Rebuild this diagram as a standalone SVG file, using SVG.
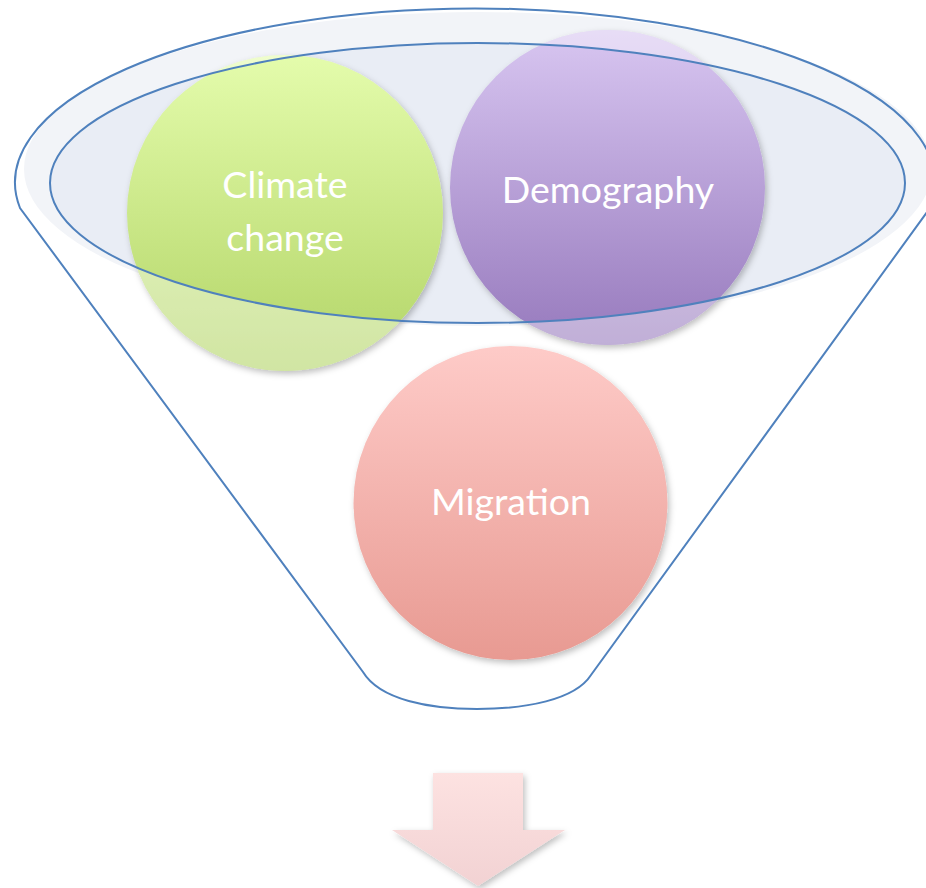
<svg xmlns="http://www.w3.org/2000/svg" width="926" height="888" viewBox="0 0 926 888">
  <defs>
    <linearGradient id="gGreen" x1="0" y1="0" x2="0" y2="1">
      <stop offset="0" stop-color="#E4FCAC"/>
      <stop offset="1" stop-color="#B2D466"/>
    </linearGradient>
    <linearGradient id="gPurple" x1="0" y1="0" x2="0" y2="1">
      <stop offset="0" stop-color="#D8C6F1"/>
      <stop offset="1" stop-color="#977ABD"/>
    </linearGradient>
    <linearGradient id="gRed" x1="0" y1="0" x2="0" y2="1">
      <stop offset="0" stop-color="#FECBC8"/>
      <stop offset="1" stop-color="#E89A92"/>
    </linearGradient>
    <linearGradient id="gArrow" x1="0" y1="0" x2="0" y2="1">
      <stop offset="0" stop-color="#FDE2E1"/>
      <stop offset="1" stop-color="#F2D2D3"/>
    </linearGradient>
    <filter id="shadow" x="-10%" y="-10%" width="125%" height="125%">
      <feDropShadow dx="2" dy="3" stdDeviation="3" flood-color="#000" flood-opacity="0.25"/>
    </filter>
    <!-- everything except the funnel mouth -->
    <clipPath id="outsideMouth">
      <path clip-rule="evenodd" d="M0,0 H926 V888 H0 Z M50,183 a427.5,140 0 1,0 855,0 a427.5,140 0 1,0 -855,0 Z"/>
    </clipPath>
  </defs>
  <style>
    .rim { fill: none; stroke: #4F81BD; stroke-width: 2; }
    .label { font-family: Lato, "Liberation Sans", sans-serif; font-size: 37.5px; fill: #FFFFFF; text-anchor: middle; }
  </style>

  <g id="funnel-back">
    <ellipse cx="478" cy="169" rx="454" ry="157" fill="#F2F4F8"/>
    <ellipse cx="477.5" cy="183" rx="427.5" ry="140" fill="#E9EDF5"/>
  </g>

  <g id="node-climate">
    <circle cx="285" cy="213" r="158" fill="url(#gGreen)" filter="url(#shadow)"/>
    <circle cx="285" cy="213" r="158" fill="#FFFFFF" fill-opacity="0.4" clip-path="url(#outsideMouth)"/>
    <text class="label" x="285" y="198">Climate</text>
    <text class="label" x="285" y="251">change</text>
  </g>

  <g id="node-demography">
    <circle cx="607.5" cy="187.5" r="157.5" fill="url(#gPurple)" filter="url(#shadow)"/>
    <circle cx="607.5" cy="187.5" r="157.5" fill="#FFFFFF" fill-opacity="0.4" clip-path="url(#outsideMouth)"/>
    <text class="label" x="608" y="203">Demography</text>
  </g>

  <g id="node-migration">
    <circle cx="510.5" cy="503" r="157" fill="url(#gRed)" filter="url(#shadow)"/>
    <text class="label" x="511" y="515">Migration</text>
  </g>

  <g id="funnel-outline">
    <ellipse class="rim" cx="477.5" cy="183" rx="427.5" ry="140"/>
    <path class="rim" d="M20,208 A460,174 0 1,1 930,208 L591,675 C575,700 525,709 477,709 C430,709 380,700 363,672 Z"/>
  </g>

  <g id="connectors">
    <path d="M433,773 H523 V830 H565 L478,886 L392,830 H433 Z" fill="url(#gArrow)" filter="url(#shadow)"/>
  </g>
</svg>
